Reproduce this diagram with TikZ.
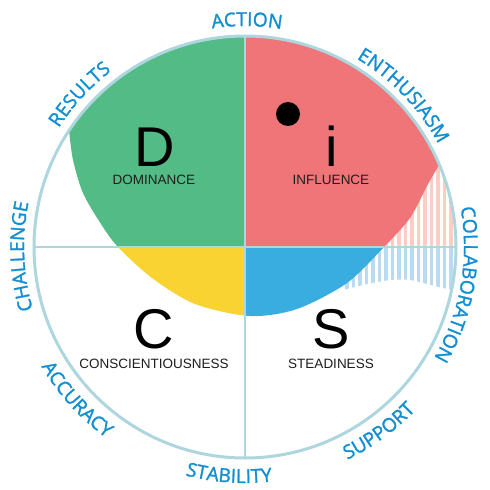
\documentclass[tikz,border=0pt]{standalone}
\usepackage{fontspec}
\usetikzlibrary{decorations.text}
\newfontfamily\ringfont[FakeBold=1.4]{Open Sans}
\newfontfamily\quadfont{Liberation Sans}
\definecolor{ringblue}{HTML}{128ED3}
\definecolor{rimcol}{HTML}{ADD6DF}
\definecolor{dgreen}{HTML}{53BB85}
\definecolor{ired}{HTML}{F07578}
\definecolor{syellow}{HTML}{F8D332}
\definecolor{sblue}{HTML}{3AADE0}
\definecolor{hatchpink}{HTML}{FBCDC3}
\definecolor{hatchblue}{HTML}{B8DBF3}
\definecolor{inktext}{HTML}{1E1E1E}
\newcommand\ringstyle{\ringfont\fontsize{19.2}{21}\selectfont\color{ringblue}}
% outline of the coloured blob: curve from the upper-left rim down under the centre
% and back up to the upper-right rim, closed along the top of the circle
\def\blobpath{plot[smooth, tension=0.5] coordinates {(-175.96,116.46) (-172,87) (-162,54) (-144,23) (-127,0)
  (-93,-31) (-50,-57) (5,-69) (52,-62) (102,-36) (139,0) (165,29) (182,61) (194.23,82.44)}
  arc[start angle=23, end angle=146.5, radius=211pt] -- cycle}
\tikzset{
  upperlabel/.style={decorate, decoration={text along path, text align=center, text={|\ringstyle|#1}}},
  lowerlabel/.style={decorate, decoration={text along path, text align=center, text={|\ringstyle|#1}}},
  bigletter/.style={font=\quadfont\fontsize{56}{56}\selectfont, text=black, anchor=base, inner sep=0pt},
  smallword/.style={font=\quadfont\fontsize{13.5}{14}\selectfont, text=inktext, anchor=base, inner sep=0pt},
  rim/.style={draw=rimcol, line width=3pt},
  divider/.style={draw=rimcol, line width=2.5pt}
}
\begin{document}
\begin{tikzpicture}[x=1pt,y=1pt]
\useasboundingbox[fill=white] (-245,-243) rectangle (245,247);

% striped areas on the right
\begin{scope}
  \clip (0,0) circle[radius=211pt];
  \clip (60,0) -- (230,0) -- (230,-47) -- plot[smooth] coordinates {(218,-45) (198,-41) (182,-37) (165,-33) (145,-33) (118,-38) (86,-46) (60,-53)} -- cycle;
  \foreach \x in {100,106.5,...,220} \fill[hatchblue] (\x,-80) rectangle ++(3.5,80);
\end{scope}
\begin{scope}
  \clip (0,0) circle[radius=211pt];
  \clip (100,0) rectangle (230,120);
  \foreach \x in {100,106.5,...,220} \fill[hatchpink] (\x,0) rectangle ++(3.5,120);
\end{scope}

% the four coloured quadrants of the blob
\begin{scope}\clip (-250,0) rectangle (0,250); \fill[dgreen] \blobpath; \end{scope}
\begin{scope}\clip (0,0) rectangle (250,250); \fill[ired] \blobpath; \end{scope}
\begin{scope}\clip (-250,-250) rectangle (0,0); \fill[syellow] \blobpath; \end{scope}
\begin{scope}\clip (0,-250) rectangle (250,0); \fill[sblue] \blobpath; \end{scope}

% dividers and rim
\coordinate (top) at (90:211pt);
\coordinate (bottom) at (-90:211pt);
\coordinate (left) at (180:211pt);
\coordinate (right) at (0:211pt);
\draw[divider] (top) -- (bottom);
\draw[divider] (left) -- (right);
\draw[rim] (0,0) circle[radius=211pt];

% quadrant letters
\node[bigletter] (dletter) at (-90,80) {D};
\node[smallword] (dword) at (-91,62) {DOMINANCE};
\node[bigletter] (iletter) at (86.5,80) {i};
\node[smallword] (iword) at (86,62) {INFLUENCE};
\fill[black] (43,133) circle[radius=12pt];
\node[bigletter] (cletter) at (-91,-101) {C};
\node[smallword] (cword) at (-91,-121) {CONSCIENTIOUSNESS};
\node[bigletter] (sletter) at (86,-101) {S};
\node[smallword] (sword) at (86,-121) {STEADINESS};

% words around the circle
\path[upperlabel=CHALLENGE] (222.4:221pt) arc[start angle=222.4, end angle=142.4, radius=221pt];
\path[upperlabel=RESULTS] (177.3:221pt) arc[start angle=177.3, end angle=97.3, radius=221pt];
\path[upperlabel=ACTION] (129.5:221pt) arc[start angle=129.5, end angle=49.5, radius=221pt];
\path[upperlabel=ENTHUSIASM] (83.7:219pt) arc[start angle=83.7, end angle=3.7, radius=219pt];
\path[upperlabel=COLLABORATION] (35:219pt) arc[start angle=35, end angle=-55, radius=219pt];
\path[lowerlabel=ACCURACY] (-177.8:236pt) arc[start angle=-177.8, end angle=-97.8, radius=236pt];
\path[lowerlabel=STABILITY] (-134:236pt) arc[start angle=-134, end angle=-54, radius=236pt];
\path[lowerlabel=SUPPORT] (-94:236pt) arc[start angle=-94, end angle=-14, radius=236pt];
\end{tikzpicture}
\end{document}
